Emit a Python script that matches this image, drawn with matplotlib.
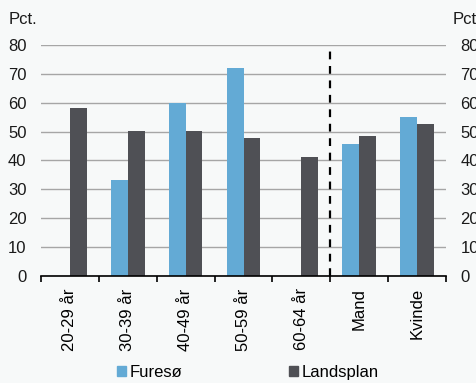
import matplotlib
matplotlib.use("Agg")
import matplotlib.pyplot as plt
import numpy as np
from matplotlib.patches import Patch

plt.rcParams['font.family'] = ['Liberation Sans', 'DejaVu Sans']

categories = ["20-29 år", "30-39 år", "40-49 år", "50-59 år", "60-64 år", "Mand", "Kvinde"]
furesoe = [np.nan, 33.3, 60.0, 72.2, np.nan, 45.8, 55.2]
landsplan = [58.0, 50.3, 50.2, 47.7, 41.2, 48.6, 52.5]
yticks = [0, 10, 20, 30, 40, 50, 60, 70, 80]

bg = "#f7f9f9"
c_fur = "#63aad5"
c_land = "#4f5055"
fs = 12

fig = plt.figure(figsize=(4.77, 3.83), dpi=100, facecolor=bg)
ax = fig.add_axes([0.086, 0.280, 0.849, 0.6025])
ax.set_facecolor(bg)

x = np.arange(len(categories))
w = 0.29
ax.bar(x - w/2, furesoe, width=w, color=c_fur, zorder=3)
ax.bar(x + w/2, landsplan, width=w, color=c_land, zorder=3)

ax.set_xlim(-0.5, len(categories) - 0.5)
ax.set_ylim(0, 80)
ax.set_yticks(yticks)
ax.yaxis.grid(True, color="#a6a6a6", linewidth=1.0, zorder=0)
ax.tick_params(axis='y', length=0, labelsize=fs, pad=10.5, colors="#1a1a1a")
ax.tick_params(axis='y', which='both', labelright=True, right=False)
for spine in ["top", "left", "right"]:
    ax.spines[spine].set_visible(False)
ax.spines["bottom"].set_color("black")
ax.spines["bottom"].set_linewidth(1.2)
ax.spines["bottom"].set_zorder(4)

ax.set_xticks(x)
ax.set_xticklabels(categories, rotation=90, fontsize=fs, va='top')
ax.tick_params(axis='x', length=0, pad=9)
ax.set_xticks(np.arange(-0.5, len(categories), 1.0), minor=True)
ax.tick_params(axis='x', which='minor', length=4, width=1.2, direction='out', color='black')

ax.axvline(4.5, color="black", linestyle=(0, (3.5, 3)), linewidth=1.6, zorder=4)

fig.text(0.019, 0.950, "Pct.", fontsize=fs, va='center', ha='left', color="#1a1a1a")
fig.text(0.948, 0.950, "Pct.", fontsize=fs, va='center', ha='left', color="#1a1a1a")

handles = [Patch(color=c_fur, label="Furesø"), Patch(color=c_land, label="Landsplan")]
fig.legend(handles=handles, loc='center', bbox_to_anchor=(0.52, 0.028), ncol=2,
           frameon=False, fontsize=fs, handlelength=0.5, handleheight=0.5,
           handletextpad=0.25, columnspacing=6.4, borderpad=0, borderaxespad=0)

fig.savefig("out.png", dpi=100, facecolor=bg)
